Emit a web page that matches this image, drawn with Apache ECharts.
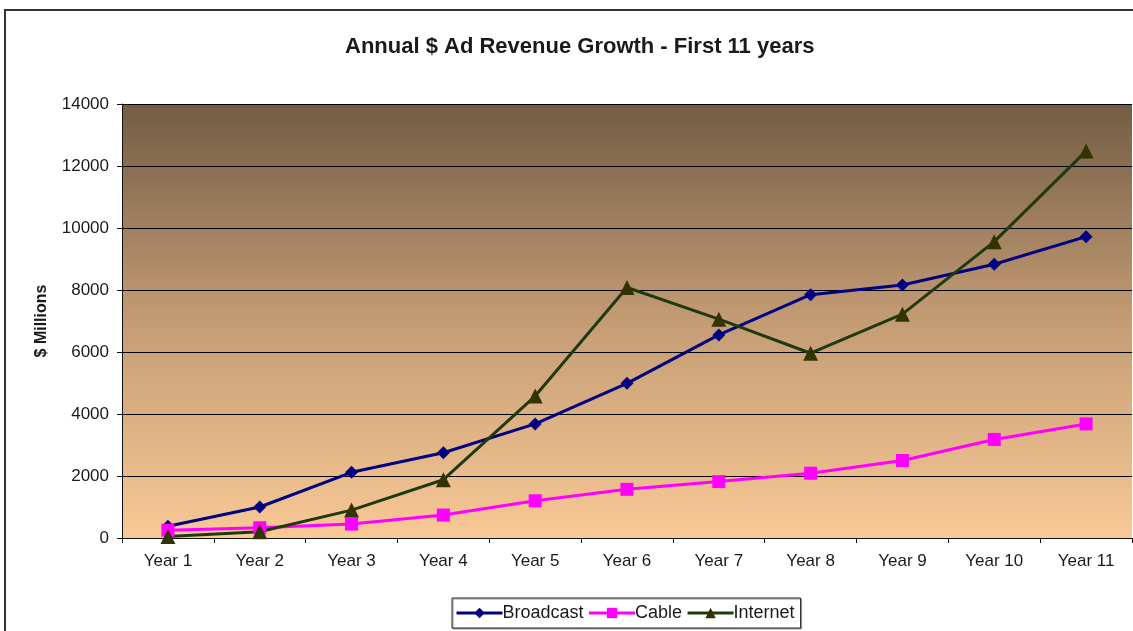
<!DOCTYPE html>
<html><head><meta charset="utf-8">
<script src="https://cdn.jsdelivr.net/npm/echarts@6/dist/echarts.min.js"></script>
<style>html,body{margin:0;padding:0;background:#fff}#c{width:1133px;height:631px}</style>
</head><body><div id="c"></div>
<script>
const categories = ['Year 1','Year 2','Year 3','Year 4','Year 5','Year 6','Year 7','Year 8','Year 9','Year 10','Year 11'];
const broadcast = [380, 1000, 2120, 2750, 3680, 4990, 6550, 7850, 8160, 8830, 9720];
const cable = [250, 330, 450, 740, 1200, 1570, 1820, 2090, 2500, 3180, 3680];
const internet = [50, 200, 900, 1880, 4580, 8080, 7060, 5960, 7220, 9560, 12480];
const yTicks = [0, 2000, 4000, 6000, 8000, 10000, 12000, 14000];

const chart = echarts.init(document.getElementById('c'));
const font = 'Liberation Sans, Arial, sans-serif';
chart.setOption({
  animation: false,
  backgroundColor: '#fff',
  title: {
    text: 'Annual $ Ad Revenue Growth - First 11 years',
    left: 340, top: 31,
    textStyle: { fontFamily: font, fontSize: 22, fontWeight: 'bold', color: '#1a1a1a' }
  },
  graphic: [
    { type: 'polyline', shape: { points: [[5, 640], [5, 10], [1140, 10]] }, style: { stroke: '#333', lineWidth: 2, fill: null } }
  ],
  legend: {
    bottom: 3, left: 452,
    data: ['Broadcast', 'Cable', 'Internet'],
    itemWidth: 46, itemHeight: 13, itemGap: 4,
    padding: [6, 6, 6, 3],
    borderColor: '#222', borderWidth: 1, backgroundColor: '#fff',
    shadowColor: '#999', shadowOffsetX: 1, shadowOffsetY: 1, shadowBlur: 0,
    lineStyle: { width: 3 },
    textStyle: { fontFamily: font, fontSize: 18, color: '#1a1a1a', padding: [0, 0, 0, -5] }
  },
  grid: {
    left: 122, right: 1, top: 104, bottom: 93,
    show: true, borderWidth: 0,
    backgroundColor: new echarts.graphic.LinearGradient(0, 0, 0, 1, [
      { offset: 0, color: '#735c45' },
      { offset: 0.5, color: '#c49c74' },
      { offset: 1, color: '#f9c996' }
    ])
  },
  xAxis: {
    type: 'category', data: categories, boundaryGap: true,
    axisLine: { lineStyle: { color: '#111', width: 1 } },
    axisTick: { show: true, length: 5, lineStyle: { color: '#111' } },
    axisLabel: { fontFamily: font, fontSize: 17, color: '#1a1a1a', margin: 15 }
  },
  yAxis: {
    type: 'value', min: 0, max: 14000, interval: 2000,
    name: '$ Millions', nameLocation: 'middle', nameGap: 72, nameRotate: 90,
    nameTextStyle: { fontFamily: font, fontSize: 16, fontWeight: 'bold', color: '#1a1a1a' },
    axisLine: { show: true, lineStyle: { color: '#111' } },
    axisTick: { show: true, length: 5, lineStyle: { color: '#111' } },
    axisLabel: { fontFamily: font, fontSize: 17, color: '#1a1a1a', margin: 13,
      formatter: v => yTicks.includes(v) ? String(v) : '' },
    splitLine: { show: true, lineStyle: { color: '#000', width: 1.2 } }
  },
  series: [
    { name: 'Broadcast', type: 'line', data: broadcast, symbol: 'diamond', symbolSize: 13,
      itemStyle: { color: '#000080' }, lineStyle: { color: '#000080', width: 3 } },
    { name: 'Cable', type: 'line', data: cable, symbol: 'rect', symbolSize: 13,
      itemStyle: { color: '#ff00ff' }, lineStyle: { color: '#ff00ff', width: 3 } },
    { name: 'Internet', type: 'line', data: internet, symbol: 'triangle', symbolSize: 15,
      itemStyle: { color: '#333300' }, lineStyle: { color: '#203a10', width: 3 } }
  ]
});
</script></body></html>
